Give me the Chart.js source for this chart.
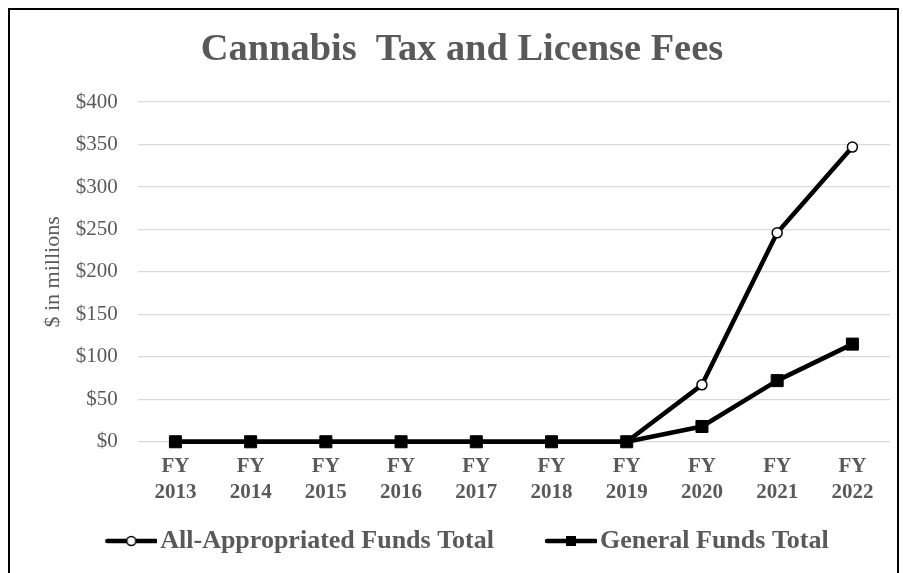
<!DOCTYPE html>
<html lang="en">
<head>
  <meta charset="UTF-8" />
  <title>Cannabis Tax and License Fees</title>
  <script src="https://cdn.jsdelivr.net/npm/chart.js"></script>
  <style>
    body {
      margin: 0;
      background: #ffffff;
      overflow: hidden;
    }
    .wrap {
      position: relative;
      width: 903px;
      height: 573px;
    }
    .frame {
      position: absolute;
      left: 8px;
      top: 8px;
      width: 887px;
      height: 600px;
      border: 2px solid #000;
      pointer-events: none;
    }
  </style>
</head>
<body>
  <div class="wrap">
    <canvas id="chart" width="903" height="573"></canvas>
    <div class="frame"></div>
  </div>

  <script>
    const years = ["2013", "2014", "2015", "2016", "2017", "2018", "2019", "2020", "2021", "2022"];
    const allFunds = [0, 0, 0, 0, 0, 0, 0, 67, 246, 347];
    const generalFunds = [0, 0, 0, 0, 0, 0, 0, 18, 72, 115];
    const seriesNames = ["All-Appropriated Funds Total", "General Funds Total"];

    const grey = '#595959';
    const serif = "'Liberation Serif', 'Times New Roman', serif";

    // legend symbol: a line with the marker in the middle, sitting at the right end of the image
    function legendSymbol(kind) {
      const c = document.createElement('canvas');
      c.width = 102;
      c.height = 20;
      const g = c.getContext('2d');
      g.strokeStyle = '#000';
      g.lineWidth = 4.5;
      g.lineCap = 'round';
      g.beginPath();
      g.moveTo(c.width - 50, 10);
      g.lineTo(c.width - 1, 10);
      g.stroke();
      const mx = c.width - 26;
      if (kind === 'circle') {
        g.fillStyle = '#fff';
        g.lineWidth = 1.5;
        g.beginPath();
        g.arc(mx, 10, 4.5, 0, Math.PI * 2);
        g.fill();
        g.stroke();
      } else {
        g.fillStyle = '#000';
        g.fillRect(mx - 5, 5, 10, 10);
      }
      return c;
    }
    const symbols = [legendSymbol('circle'), legendSymbol('rect')];

    // nudge the legend row a little to the left
    const legendShift = {
      id: 'legendShift',
      afterLayout(chart) {
        chart.legend.left -= 15;
        chart.legend.right -= 15;
      },
    };

    new Chart(document.getElementById('chart'), {
      type: 'line',
      data: {
        labels: years.map(y => ['FY', y]),
        datasets: [
          {
            label: seriesNames[0],
            data: allFunds,
            order: 1,
            clip: false,
            borderColor: '#000',
            borderWidth: 4.5,
            borderJoinStyle: 'round',
            tension: 0,
            pointStyle: 'circle',
            pointRadius: 5,
            pointBackgroundColor: '#fff',
            pointBorderColor: '#000',
            pointBorderWidth: 1.5,
          },
          {
            label: seriesNames[1],
            data: generalFunds,
            order: 0,
            clip: false,
            borderColor: '#000',
            borderWidth: 4.5,
            borderJoinStyle: 'round',
            tension: 0,
            pointStyle: 'rect',
            pointRadius: 8.5,
            pointBackgroundColor: '#000',
            pointBorderColor: '#000',
            pointBorderWidth: 1,
          },
        ],
      },
      options: {
        responsive: false,
        animation: false,
        layout: { padding: { left: 34, right: 13, top: 10, bottom: 9 } },
        plugins: {
          title: {
            display: true,
            text: 'Cannabis  Tax and License Fees',
            color: grey,
            font: { family: serif, size: 38.4, weight: 'bold', lineHeight: 1.2 },
            padding: { top: 17, bottom: 29 },
          },
          legend: {
            position: 'bottom',
            labels: {
              color: grey,
              font: { family: serif, size: 26, weight: 'bold' },
              usePointStyle: true,
              pointStyleWidth: 82,
              padding: 11,
              sort: (a, b) => a.datasetIndex - b.datasetIndex,
              generateLabels: (chart) => {
                const items = Chart.defaults.plugins.legend.labels.generateLabels(chart);
                items.forEach(it => { it.pointStyle = symbols[it.datasetIndex]; });
                return items;
              },
            },
          },
          tooltip: { enabled: false },
        },
        scales: {
          x: {
            offset: true,
            grid: { display: false, drawTicks: false },
            border: { display: false },
            ticks: {
              color: grey,
              font: { family: serif, size: 21, weight: 'bold', lineHeight: 1.22 },
              padding: 12,
              maxRotation: 0,
              autoSkip: false,
            },
          },
          y: {
            min: 0,
            max: 400,
            grid: { color: '#d9d9d9', lineWidth: 1.3, drawTicks: false },
            border: { display: false },
            ticks: {
              stepSize: 50,
              color: grey,
              font: { family: serif, size: 21 },
              padding: 20,
              callback: v => '$' + v,
            },
            title: {
              display: true,
              text: '$ in millions',
              color: grey,
              font: { family: serif, size: 22, lineHeight: 1.2 },
              padding: { top: 6.4, bottom: -11 },
            },
          },
        },
      },
      plugins: [legendShift],
    });
  </script>
</body>
</html>
